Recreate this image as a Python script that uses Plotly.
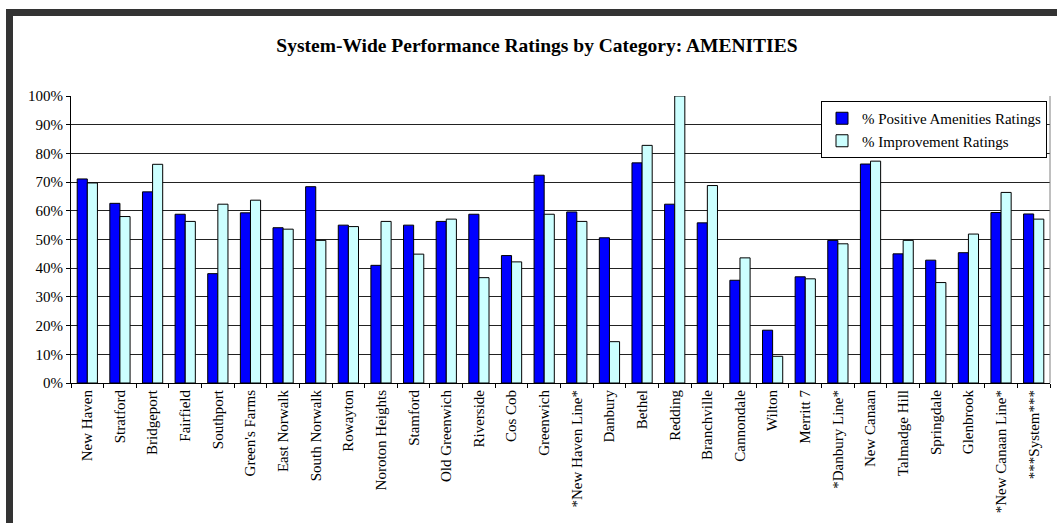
import plotly.graph_objects as go

# Station / line categories along the x axis
stations = [
    "New Haven", "Stratford", "Bridgeport", "Fairfield", "Southport",
    "Green's Farms", "East Norwalk", "South Norwalk", "Rowayton",
    "Noroton Heights", "Stamford", "Old Greenwich", "Riverside", "Cos Cob",
    "Greenwich", "*New Haven Line*", "Danbury", "Bethel", "Redding",
    "Branchville", "Cannondale", "Wilton", "Merritt 7", "*Danbury Line*",
    "New Canaan", "Talmadge Hill", "Springdale", "Glenbrook",
    "*New Canaan Line*", "***System***",
]

# Percent of positive amenities ratings
positive_pct = [
    71.1, 62.6, 66.6, 58.8, 38.1, 59.3, 54.1, 68.4, 55.0,
    41.0, 55.0, 56.3, 58.8, 44.4, 72.4, 59.6, 50.6, 76.7, 62.3,
    55.8, 35.8, 18.4, 37.0, 49.7, 76.3, 45.0, 42.8, 45.4,
    59.4, 58.9,
]

# Percent of improvement ratings
improvement_pct = [
    69.7, 58.0, 76.2, 56.3, 62.3, 63.7, 53.6, 49.7, 54.5,
    56.3, 44.9, 57.1, 36.7, 42.2, 58.8, 56.3, 14.4, 82.8, 100.0,
    68.8, 43.6, 9.3, 36.3, 48.5, 77.3, 49.7, 35.0, 51.9,
    66.4, 57.1,
]

y_ticks = [0, 10, 20, 30, 40, 50, 60, 70, 80, 90, 100]

SERIF = "Liberation Serif, Times New Roman, serif"

W, H = 1057, 523
L, R, T, B = 71, 7, 96, 140
PW, PH = W - L - R, H - T - B


def px_x(px):
    return (px - L) / PW


def px_y(py):
    return (H - B - py) / PH


fig = go.Figure()
fig.add_trace(go.Bar(
    name="% Positive Amenities Ratings",
    x=stations, y=positive_pct,
    marker=dict(color="#0000FF", line=dict(color="#000000", width=1)),
))
fig.add_trace(go.Bar(
    name="% Improvement Ratings",
    x=stations, y=improvement_pct,
    marker=dict(color="#CCFFFF", line=dict(color="#000000", width=1)),
))

# Dark frame along the top and left edges of the sheet
frame = "#333333"
shapes = [
    dict(type="rect", xref="paper", yref="paper",
         x0=px_x(6), x1=px_x(W + 5), y0=px_y(16), y1=px_y(9),
         fillcolor=frame, line=dict(width=0), layer="above"),
    dict(type="rect", xref="paper", yref="paper",
         x0=px_x(6), x1=px_x(13), y0=px_y(H + 5), y1=px_y(9),
         fillcolor=frame, line=dict(width=0), layer="above"),
    # right edge of the plotting area
    dict(type="line", xref="paper", yref="paper",
         x0=1, x1=1, y0=0, y1=1,
         line=dict(color="#808080", width=1)),
]

fig.update_layout(
    width=W, height=H, autosize=False,
    margin=dict(l=L, r=R, t=T, b=B),
    paper_bgcolor="white", plot_bgcolor="white",
    barmode="group", bargap=0.38, bargroupgap=0,
    font=dict(family=SERIF, color="#000000", size=14),
    title=dict(
        text="<b>System-Wide Performance Ratings by Category: AMENITIES</b>",
        x=0.508, xref="container", xanchor="center",
        y=1 - 45 / H, yref="container", yanchor="middle",
        font=dict(family=SERIF, size=19.5, color="#000000"),
    ),
    legend=dict(
        x=px_x(1047), xanchor="right", y=px_y(101), yanchor="top",
        bgcolor="white", bordercolor="#000000", borderwidth=1,
        font=dict(family=SERIF, size=15, color="#000000"),
        itemwidth=30, tracegroupgap=0,
    ),
    shapes=shapes,
    xaxis=dict(
        type="category", tickangle=-90,
        ticks="outside", ticklen=4, tickcolor="#000000",
        tickson="boundaries",
        showline=True, linecolor="#000000", linewidth=1,
        showgrid=False,
        tickfont=dict(family=SERIF, size=15, color="#000000"),
    ),
    yaxis=dict(
        range=[0, 100], tickvals=y_ticks,
        ticktext=[f"{v}%" for v in y_ticks],
        ticks="outside", ticklen=4, tickcolor="#000000",
        showline=True, linecolor="#000000", linewidth=1,
        showgrid=True, gridcolor="#222222", gridwidth=1,
        zeroline=False,
        tickfont=dict(family=SERIF, size=15, color="#000000"),
    ),
)

fig.write_html("out.html")
